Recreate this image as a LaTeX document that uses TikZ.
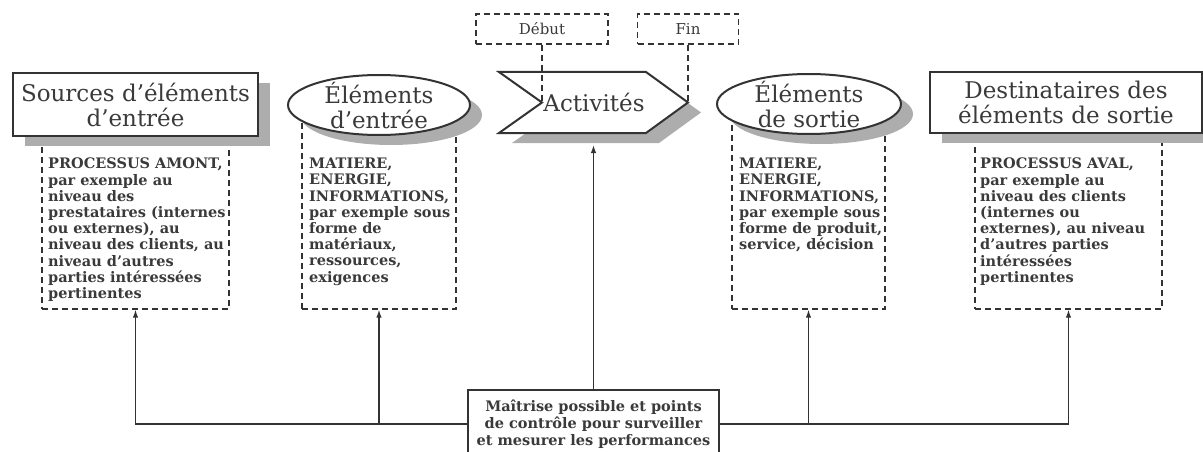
\documentclass[tikz,border=0pt]{standalone}
\usepackage{fontspec}
\setmainfont{DejaVu Serif}
\usetikzlibrary{arrows.meta,shapes.geometric}
\definecolor{ln}{HTML}{333333}
\definecolor{tx}{HTML}{3A3A3A}
\definecolor{shd}{HTML}{ADADAD}
\tikzset{
  hdr/.style={font=\fontsize{23}{25}\selectfont, text=tx, align=center, inner sep=0pt},
  hbox/.style={draw=ln, line width=2.2pt, fill=white, inner sep=0pt, hdr},
  ell/.style={ellipse, draw=ln, line width=2pt, fill=white, minimum width=182pt, minimum height=60pt, inner sep=0pt},
  dbox/.style={draw=ln, line width=1.3pt, dash pattern=on 6pt off 4pt, inner sep=0pt},
  dline/.style={draw=ln, line width=1.3pt, dash pattern=on 6pt off 4pt},
  body/.style={font=\bfseries\fontsize{14.5}{16.2}\selectfont, text=tx, align=left, inner sep=0pt, anchor=north west},
  small/.style={font=\fontsize{15}{17}\selectfont, text=tx},
  conn/.style={draw=ln, line width=1.3pt},
  arr/.style={conn, -{Latex[length=8pt,width=5.5pt]}},
}
\begin{document}
\begin{tikzpicture}[x=1pt,y=-1pt]
\useasboundingbox (0,0) rectangle (1203,452);
% dashed boxes
\node[dbox, minimum width=187pt, minimum height=179pt] (srcbox) at (135.5,219.5) {};
\node[dbox, minimum width=154pt, minimum height=199pt] (inbox) at (379,209.5) {};
\node[dbox, minimum width=153pt, minimum height=199pt] (outbox) at (808.5,209.5) {};
\node[dbox, minimum width=187pt, minimum height=179pt] (dstbox) at (1068.5,219.5) {};
% shadows
\fill[shd] (25,83) rectangle (270,146);
\fill[shd] (391,115) ellipse [x radius=91pt, y radius=30pt];
\fill[shd] (512,82) -- (659,82) -- (701,112.5) -- (659,143) -- (512,143) -- (555,112.5) -- cycle;
\fill[shd] (821,114) ellipse [x radius=92pt, y radius=30pt];
\fill[shd] (942,82) rectangle (1203,143);
% headers
\node[hbox, minimum width=245pt, minimum height=63pt] (src) at (135.5,104.5) {Sources d’éléments\\d’entrée};
\node[ell] (inell) at (379,105) {};
\node[hdr] (intxt) at (inell.center) {Éléments\\d’entrée};
\path[draw=ln, line width=2pt, fill=white] (499,72) -- (646,72) -- (688,102.5) -- (646,133) -- (499,133) -- (542,102.5) -- cycle;
\coordinate (notch) at (542,102.5);
\coordinate (tip) at (688,102.5);
\coordinate (actbot) at (593.5,145);
\node[hdr] (act) at (594,102.5) {Activités};
\node[ell, minimum width=184pt] (outell) at (809,104) {};
\node[hdr] (outtxt) at (outell.center) {Éléments\\de sortie};
\node[hbox, minimum width=272pt, minimum height=61pt] (dst) at (1066,102.5) {Destinataires des\\éléments de sortie};
% debut / fin
\node[dbox, small, minimum width=132pt, minimum height=30pt] (deb) at (542,29) {Début};
\node[dbox, small, minimum width=101pt, minimum height=30pt] (fin) at (688,29) {Fin};
\draw[dline] (deb.south) -- (notch);
\draw[dline] (fin.south) -- (tip);
% body texts
\node[body] (srctxt) at (48,158) {PROCESSUS AMONT,\\par exemple au\\niveau des\\prestataires (internes\\ou externes), au\\niveau des clients, au\\niveau d’autres\\parties intéressées\\pertinentes};
\node[body] (intx) at (309,158) {MATIERE,\\ENERGIE,\\INFORMATIONS,\\par exemple sous\\forme de\\matériaux,\\ressources,\\exigences};
\node[body] (outtx) at (739,158) {MATIERE,\\ENERGIE,\\INFORMATIONS,\\par exemple sous\\forme de produit,\\service, décision};
\node[body] (dsttxt) at (980,158) {PROCESSUS AVAL,\\par exemple au\\niveau des clients\\(internes ou\\externes), au niveau\\d’autres parties\\intéressées\\pertinentes};
% control box
\node[draw=ln, line width=2pt, fill=white, minimum width=251pt, minimum height=68pt, inner sep=0pt, align=center, font=\bfseries\fontsize{14.5}{17}\selectfont, text=tx] (ctrl) at (593.5,424) {Maîtrise possible et points\\de contrôle pour surveiller\\et mesurer les performances};
% connectors
\draw[arr] (ctrl.north) -- (actbot);
\draw[arr] (ctrl.west) -| (srcbox.south);
\draw[arr] (ctrl.west) -| (inbox.south);
\draw[arr] (ctrl.east) -| (outbox.south);
\draw[arr] (ctrl.east) -| (dstbox.south);
\end{tikzpicture}
\end{document}
